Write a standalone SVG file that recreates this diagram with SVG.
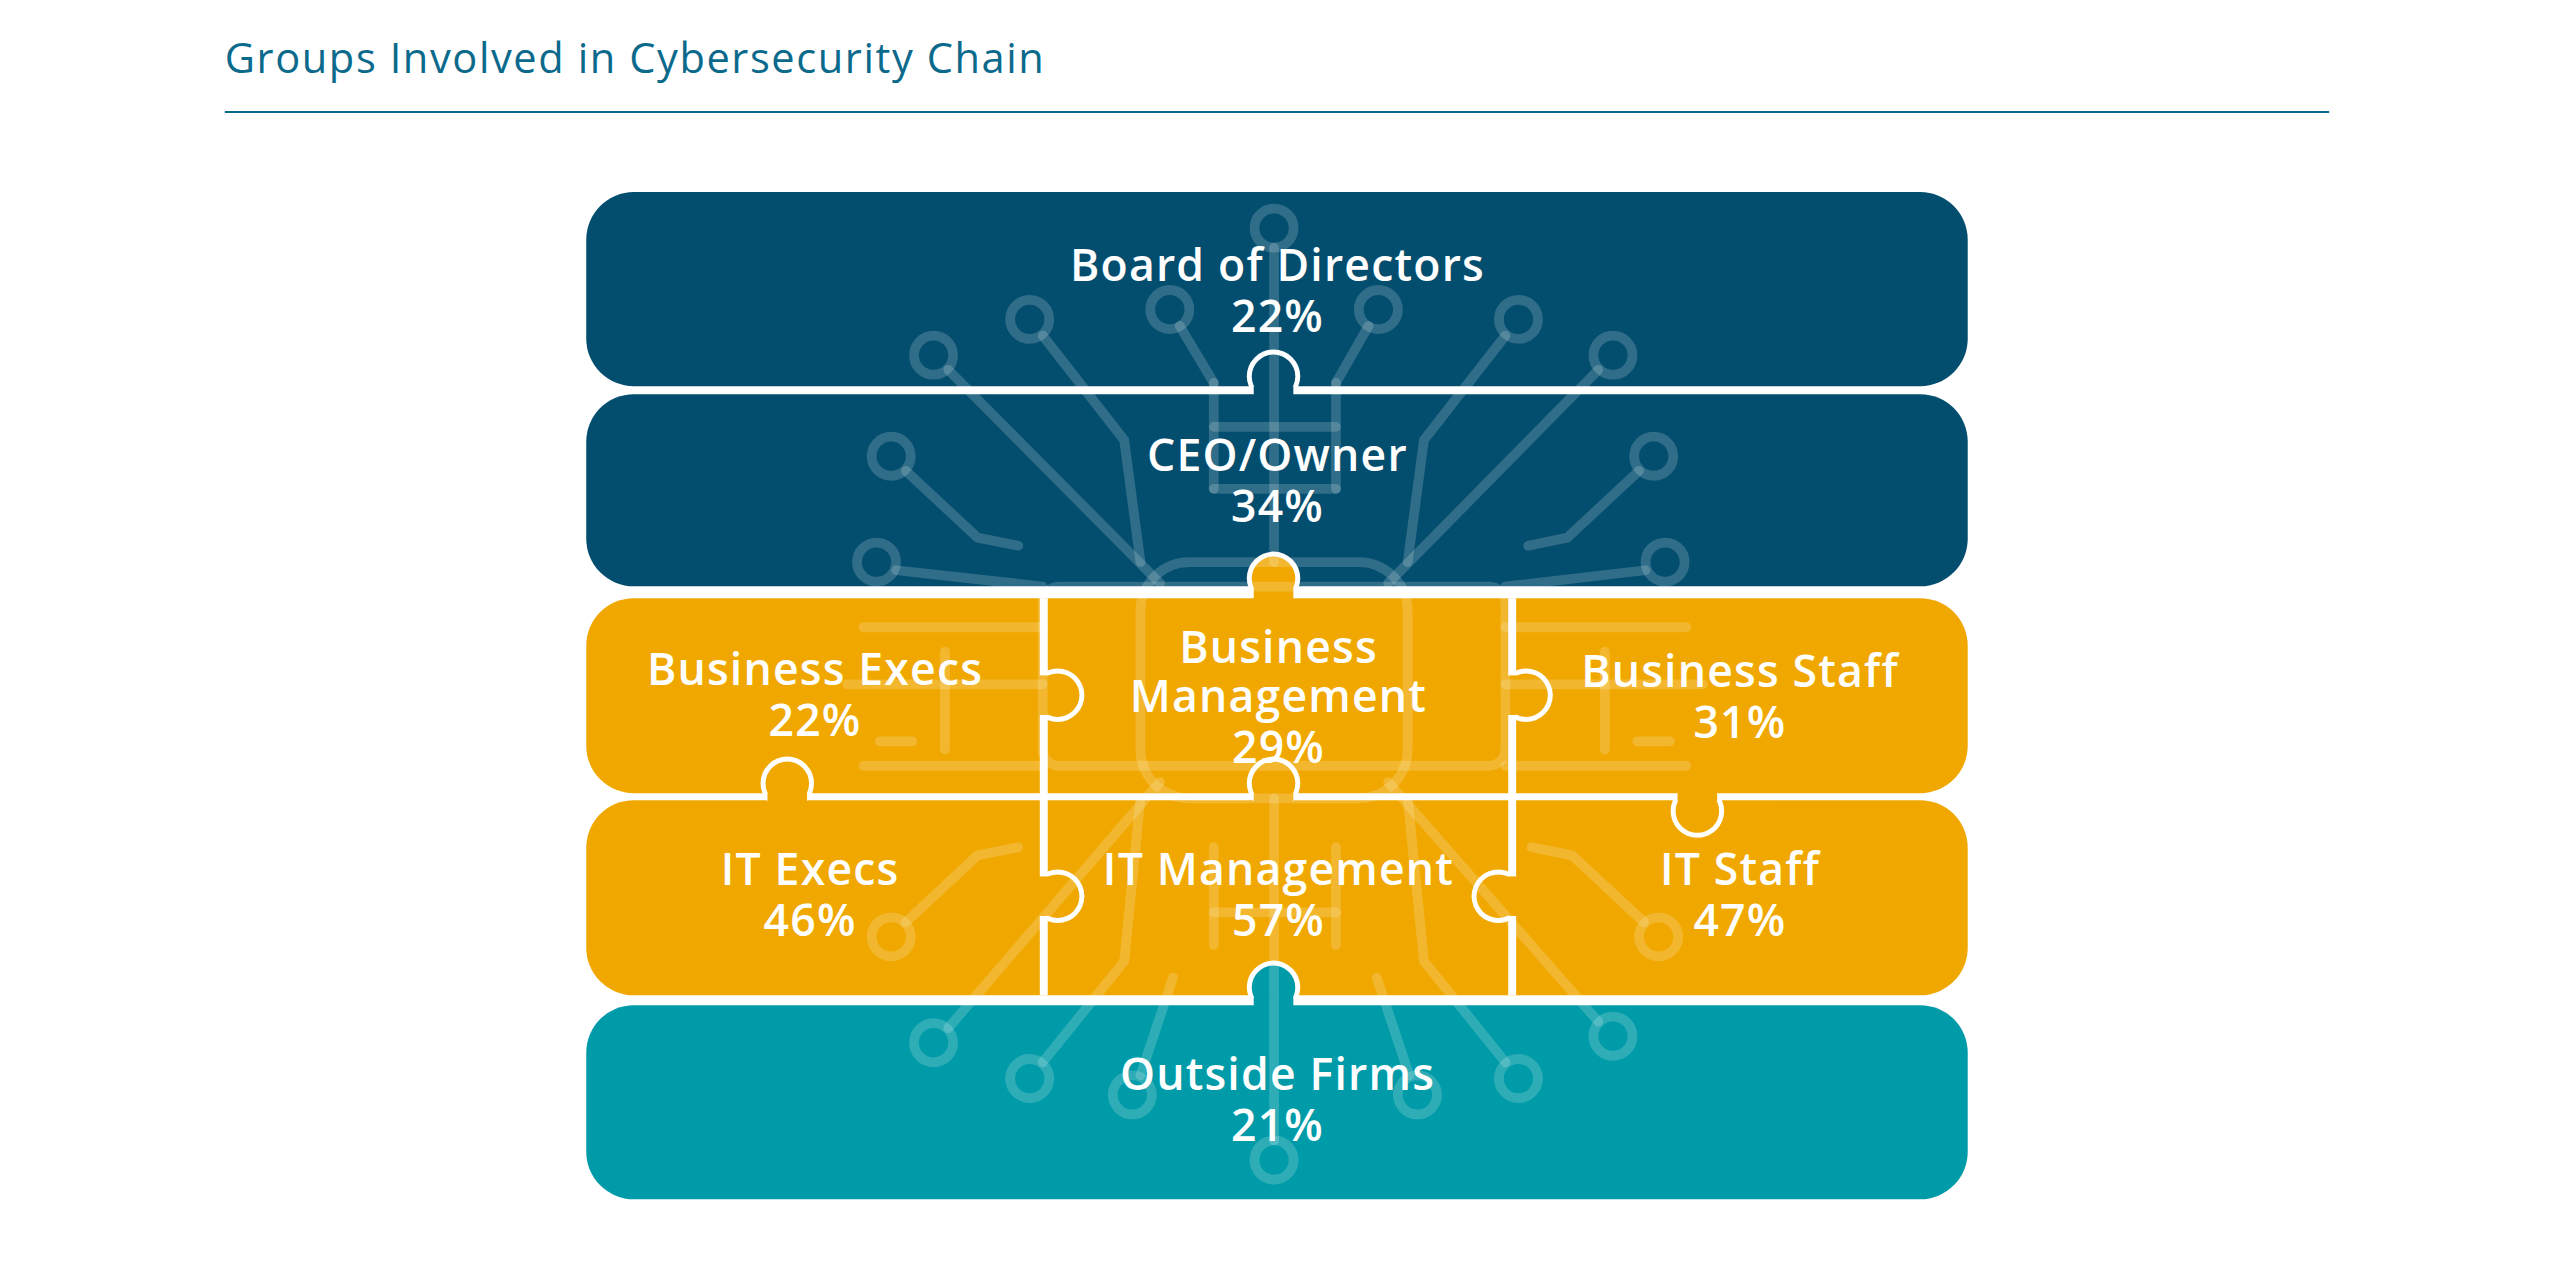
<svg xmlns="http://www.w3.org/2000/svg" width="2550" height="1267" viewBox="0 0 2550 1267">
<style>
.dk{fill:#034d6e}.yl{fill:#f0a800}.tl{fill:#009ba8}
.lbl{font-family:"Open Sans","Liberation Sans",sans-serif;font-weight:600;font-size:45px;letter-spacing:1.2px;fill:#fff;text-anchor:middle}
.cir{fill:none;stroke:#fff;stroke-opacity:0.18;stroke-width:6;stroke-linecap:round;stroke-linejoin:round}
</style>
<defs>
<g id="tabw"><circle cx="0" cy="-14" r="27" fill="#fff"/></g>
</defs>
<rect width="2550" height="1267" fill="#fff"/>
<g transform="scale(0.9903)">
<text x="227" y="74" font-family="'Open Sans','Liberation Sans',sans-serif" font-size="42" letter-spacing="1.6" fill="#0b6a8c">Groups Involved in Cybersecurity Chain</text>
<line x1="227" y1="113" x2="2352" y2="113" stroke="#0b6a8c" stroke-width="2"/>
<g id="pieces">
<rect id="board" class="dk" x="592" y="194" width="1395" height="196" rx="48"/>
<rect id="ceo" class="dk" x="592" y="398" width="1395" height="194" rx="48"/>
<rect id="bizrow" class="yl" x="592" y="604" width="1395" height="197" rx="48"/>
<rect id="itrow" class="yl" x="592" y="808" width="1395" height="197" rx="48"/>
<rect id="outside" class="tl" x="592" y="1015" width="1395" height="196" rx="48"/>
<rect x="1050" y="604" width="8" height="401" fill="#fff"/>
<rect x="1523" y="604" width="8" height="401" fill="#fff"/>
</g>
<g id="tabs">
<g transform="translate(1286,394)"><use href="#tabw"/><circle cx="0" cy="-14" r="22" class="dk"/><rect x="-20" y="-4" width="40" height="20" class="dk"/></g>
<g transform="translate(1286,598)"><use href="#tabw"/><circle cx="0" cy="-14" r="22" class="yl"/><rect x="-20" y="-4" width="40" height="20" class="yl"/></g>
<g transform="translate(795,805)"><use href="#tabw"/><circle cx="0" cy="-14" r="22" class="yl"/><rect x="-20" y="-4" width="40" height="20" class="yl"/></g>
<g transform="translate(1286,805)"><use href="#tabw"/><circle cx="0" cy="-14" r="22" class="yl"/><rect x="-20" y="-4" width="40" height="20" class="yl"/></g>
<g transform="translate(1714,805) rotate(180)"><use href="#tabw"/><circle cx="0" cy="-14" r="22" class="yl"/><rect x="-20" y="-4" width="40" height="20" class="yl"/></g>
<g transform="translate(1286,1011)"><use href="#tabw"/><circle cx="0" cy="-14" r="22" class="tl"/><rect x="-20" y="-4" width="40" height="20" class="tl"/></g>
<g transform="translate(1054,702) rotate(90)"><use href="#tabw"/><circle cx="0" cy="-14" r="22" class="yl"/><rect x="-20" y="-4" width="40" height="20" class="yl"/></g>
<g transform="translate(1527,702) rotate(90)"><use href="#tabw"/><circle cx="0" cy="-14" r="22" class="yl"/><rect x="-20" y="-4" width="40" height="20" class="yl"/></g>
<g transform="translate(1054,905) rotate(90)"><use href="#tabw"/><circle cx="0" cy="-14" r="22" class="yl"/><rect x="-20" y="-4" width="40" height="20" class="yl"/></g>
<g transform="translate(1527,905) rotate(-90)"><use href="#tabw"/><circle cx="0" cy="-14" r="22" class="yl"/><rect x="-20" y="-4" width="40" height="20" class="yl"/></g>
</g>
<g id="circuit" class="cir" transform="scale(1.6452)">
<rect x="700" y="345" width="164" height="145" rx="30"/>
<rect x="640" y="360" width="284" height="110" rx="10"/>
<circle cx="782" cy="140" r="12"/><line x1="782" y1="152" x2="782" y2="345"/>
<line x1="745" y1="235" x2="745" y2="300"/><line x1="820" y1="235" x2="820" y2="300"/><line x1="745" y1="262" x2="820" y2="262"/>
<line x1="745" y1="300" x2="820" y2="300"/>
<circle cx="632" cy="196" r="12"/><polyline points="640,206 690,270 700,345"/>
<circle cx="932" cy="196" r="12"/><polyline points="924,206 874,270 864,345"/>
<circle cx="718" cy="190" r="12"/><polyline points="724,200 745,235"/>
<circle cx="846" cy="190" r="12"/><polyline points="840,200 820,235"/>
<circle cx="573" cy="218" r="12"/><polyline points="582,227 712,358"/>
<circle cx="990" cy="218" r="12"/><polyline points="981,227 852,358"/>
<circle cx="547" cy="280" r="12"/><polyline points="556,289 600,330 625,335"/>
<circle cx="1015" cy="280" r="12"/><polyline points="1006,289 962,330 938,335"/>
<circle cx="538" cy="345" r="12"/><polyline points="550,350 640,360"/>
<circle cx="1022" cy="345" r="12"/><polyline points="1010,350 924,360"/>
<line x1="530" y1="385" x2="640" y2="385"/><line x1="924" y1="385" x2="1035" y2="385"/>
<line x1="520" y1="420" x2="640" y2="420"/><line x1="924" y1="420" x2="1045" y2="420"/>
<line x1="540" y1="455" x2="560" y2="455"/><line x1="1005" y1="455" x2="1025" y2="455"/>
<line x1="580" y1="400" x2="580" y2="460"/><line x1="985" y1="400" x2="985" y2="460"/>
<circle cx="782" cy="712" r="12"/><line x1="782" y1="700" x2="782" y2="490"/>
<line x1="745" y1="520" x2="745" y2="580"/><line x1="820" y1="520" x2="820" y2="580"/><line x1="745" y1="560" x2="820" y2="560"/>
<circle cx="632" cy="662" r="12"/><polyline points="640,652 690,590 700,490"/>
<circle cx="932" cy="662" r="12"/><polyline points="924,652 874,590 864,490"/>
<circle cx="695" cy="672" r="12"/><polyline points="700,660 720,600"/>
<circle cx="870" cy="672" r="12"/><polyline points="865,660 845,600"/>
<circle cx="573" cy="640" r="12"/><polyline points="582,631 712,480"/>
<circle cx="990" cy="636" r="12"/><polyline points="981,627 852,480"/>
<circle cx="547" cy="575" r="12"/><polyline points="556,566 600,525 625,520"/>
<circle cx="1018" cy="575" r="12"/><polyline points="1009,566 965,525 940,520"/>
<line x1="530" y1="470" x2="640" y2="470"/><line x1="924" y1="470" x2="1035" y2="470"/>
</g>
<g id="labels">
<g id="n-board"><text class="lbl" x="1290" y="284">Board of Directors</text><text class="lbl" x="1290" y="335">22%</text></g>
<g id="n-ceo"><text class="lbl" x="1290" y="476">CEO/Owner</text><text class="lbl" x="1290" y="527">34%</text></g>
<g id="n-bizexec"><text class="lbl" x="823" y="692">Business Execs</text><text class="lbl" x="823" y="743">22%</text></g>
<g id="n-bizmgmt"><text class="lbl" x="1291" y="669">Business</text><text class="lbl" x="1291" y="719">Management</text><text class="lbl" x="1291" y="770">29%</text></g>
<g id="n-bizstaff"><text class="lbl" x="1757" y="694">Business Staff</text><text class="lbl" x="1757" y="745">31%</text></g>
<g id="n-itexec"><text class="lbl" x="818" y="894">IT Execs</text><text class="lbl" x="818" y="945">46%</text></g>
<g id="n-itmgmt"><text class="lbl" x="1291" y="894">IT Management</text><text class="lbl" x="1291" y="945">57%</text></g>
<g id="n-itstaff"><text class="lbl" x="1757" y="894">IT Staff</text><text class="lbl" x="1757" y="945">47%</text></g>
<g id="n-outside"><text class="lbl" x="1290" y="1101">Outside Firms</text><text class="lbl" x="1290" y="1152">21%</text></g>
</g>
</g>
</svg>
